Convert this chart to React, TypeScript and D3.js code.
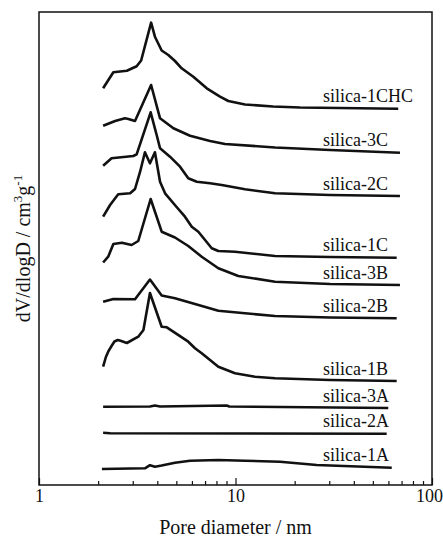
import React, { useEffect, useRef } from "react";
import * as d3 from "d3";

type Pt = [number, number];

// pore diameter (nm), dV/dlogD (curves shifted for clarity)
const silica1CHC: Pt[] = [[2.12, 39.67], [2.39, 41.28], [2.8, 41.42], [3.14, 41.87], [3.31, 42.45], [3.72, 46.23], [3.89, 44.83], [4.21, 43.45], [4.55, 43.0], [4.92, 42.4], [5.32, 41.67], [6.1, 40.83], [7.14, 39.67], [8.34, 38.83], [9.19, 38.4], [11.18, 38.05], [15.52, 37.85], [21.29, 37.75], [67.3, 37.62]];
const silica3C: Pt[] = [[2.12, 35.93], [2.44, 36.4], [2.74, 36.67], [2.85, 36.6], [3.08, 36.4], [3.72, 40.0], [4.13, 36.67], [4.83, 35.67], [5.87, 34.93], [7.42, 34.4], [8.84, 34.1], [15.89, 33.75], [30.27, 33.5], [68.7, 33.23]];
const silica2C: Pt[] = [[2.12, 31.93], [2.34, 32.67], [3.02, 32.9], [3.14, 33.07], [3.7, 37.27], [3.97, 35.0], [4.13, 33.67], [4.64, 32.83], [5.22, 31.83], [5.75, 30.67], [6.35, 30.33], [7.42, 30.17], [8.51, 30.0], [11.18, 29.57], [15.89, 29.17], [30.27, 29.0], [68.7, 28.9]];
const silica1C: Pt[] = [[2.12, 26.83], [2.3, 28.0], [2.53, 29.07], [2.91, 29.17], [3.08, 29.6], [3.27, 31.33], [3.46, 33.27], [3.67, 32.17], [3.89, 33.27], [4.13, 30.33], [4.38, 29.17], [5.04, 27.75], [5.53, 26.83], [5.99, 25.83], [6.47, 25.33], [7.57, 23.67], [8.18, 23.4], [9.94, 23.33], [15.89, 22.9], [30.27, 22.8], [66.1, 22.73]];
const silica3B: Pt[] = [[2.12, 22.25], [2.25, 22.83], [2.39, 24.1], [2.64, 24.23], [2.96, 24.0], [3.2, 24.4], [3.7, 28.6], [4.21, 25.33], [4.92, 24.75], [5.75, 23.9], [6.73, 22.83], [8.18, 21.67], [10.33, 20.9], [15.89, 20.33], [30.27, 20.1], [68.7, 20.0]];
const silica2B: Pt[] = [[2.12, 18.33], [2.39, 18.6], [3.08, 18.57], [3.67, 20.55], [4.21, 18.95], [4.92, 18.67], [6.22, 18.1], [8.18, 17.43], [11.18, 17.17], [15.89, 16.9], [30.27, 16.75], [66.1, 16.67]];
const silica1B: Pt[] = [[2.12, 11.83], [2.19, 12.8], [2.25, 13.33], [2.34, 13.9], [2.42, 14.35], [2.52, 14.5], [2.6, 14.42], [2.8, 14.2], [3.2, 14.83], [3.4, 15.5], [3.67, 19.2], [4.21, 15.83], [4.47, 15.77], [5.75, 14.33], [6.22, 13.67], [6.73, 13.17], [8.18, 11.83], [9.94, 11.17], [12.57, 10.83], [15.89, 10.67], [30.27, 10.5], [66.1, 10.4]];
const silica3A: Pt[] = [[2.12, 7.83], [3.67, 7.85], [3.89, 7.95], [4.13, 7.85], [9.02, 7.95], [9.3, 7.85], [59.9, 7.7]];
const silica2A: Pt[] = [[2.12, 5.22], [2.3, 5.17], [58.8, 5.13]];
const silica1A: Pt[] = [[2.09, 1.6], [3.46, 1.67], [3.67, 1.98], [3.89, 1.83], [4.21, 1.95], [4.92, 2.23], [5.87, 2.43], [8.18, 2.5], [11.18, 2.43], [16.85, 2.33], [25.9, 2.0], [62.4, 1.73]];

const seriesNames = ["silica-1CHC", "silica-3C", "silica-2C", "silica-1C", "silica-3B", "silica-2B", "silica-1B", "silica-3A", "silica-2A", "silica-1A"];
const seriesData = [silica1CHC, silica3C, silica2C, silica1C, silica3B, silica2B, silica1B, silica3A, silica2A, silica1A];

const majorTicks = [1, 10, 100];
const minorTicks = [2, 3, 4, 5, 6, 7, 8, 9, 20, 30, 40, 50, 60, 70, 80, 90];

const width = 443;
const height = 539;
const margin = { top: 12, right: 11, bottom: 54, left: 39 };
const font = "'Liberation Serif', 'Times New Roman', serif";

const App = () => {
  const ref = useRef<SVGSVGElement>(null);

  useEffect(() => {
    drawChart();
  }, []);

  function drawChart() {
    const svg = d3.select(ref.current);
    svg.selectAll("*").remove();

    const x = d3
      .scaleLog()
      .domain([1, 100])
      .range([margin.left, width - margin.right]);
    const y = d3
      .scaleLinear()
      .domain([0, 47.3])
      .range([height - margin.bottom, margin.top]);

    const line = d3
      .line<Pt>()
      .x((d) => x(d[0]))
      .y((d) => y(d[1]))
      .curve(d3.curveLinear);

    // frame
    svg
      .append("rect")
      .attr("x", margin.left)
      .attr("y", margin.top)
      .attr("width", width - margin.left - margin.right)
      .attr("height", height - margin.top - margin.bottom)
      .attr("fill", "none")
      .attr("stroke", "#111")
      .attr("stroke-width", 1.5);

    // ticks inside
    const bottom = height - margin.bottom;
    const major = svg
      .append("g")
      .attr("transform", `translate(0,${bottom})`)
      .call(
        d3
          .axisBottom(x)
          .tickValues(majorTicks)
          .tickFormat(d3.format("d"))
          .tickSize(-7)
          .tickPadding(4)
      );
    major.select(".domain").remove();
    major.selectAll("line").attr("stroke", "#111").attr("stroke-width", 1.2);
    major
      .selectAll("text")
      .attr("fill", "#111")
      .attr("dx", (d) => (d === 100 ? -3 : 0))
      .style("font-family", font)
      .style("font-size", "18px");

    const minor = svg
      .append("g")
      .attr("transform", `translate(0,${bottom})`)
      .call(d3.axisBottom(x).tickValues(minorTicks).tickFormat(() => "").tickSize(-4));
    minor.select(".domain").remove();
    minor.selectAll("line").attr("stroke", "#111").attr("stroke-width", 1.2);

    // curves
    svg
      .append("g")
      .selectAll("path")
      .data(seriesData)
      .enter()
      .append("path")
      .attr("d", (d) => line(d))
      .attr("fill", "none")
      .attr("stroke", "#111")
      .attr("stroke-width", 2.6)
      .attr("stroke-linejoin", "round");

    // series labels
    svg
      .append("g")
      .selectAll("text")
      .data(seriesData)
      .enter()
      .append("text")
      .attr("x", 323)
      .attr("y", (d) => y(d[d.length - 1][1]) - 6.5)
      .text((_, i) => seriesNames[i])
      .attr("fill", "#111")
      .style("font-family", font)
      .style("font-size", "18px");

    // axis titles
    svg
      .append("text")
      .attr("x", x(10))
      .attr("y", 534)
      .attr("text-anchor", "middle")
      .attr("fill", "#111")
      .style("font-family", font)
      .style("font-size", "20px")
      .text("Pore diameter / nm");

    const yTitle = svg
      .append("text")
      .attr("transform", `translate(30,${(margin.top + bottom) / 2}) rotate(-90)`)
      .attr("text-anchor", "middle")
      .attr("fill", "#111")
      .style("font-family", font)
      .style("font-size", "20px");
    yTitle.append("tspan").text("dV/dlogD / cm");
    yTitle.append("tspan").attr("dy", -8).style("font-size", "13px").text("3");
    yTitle.append("tspan").attr("dy", 8).text("g");
    yTitle.append("tspan").attr("dy", -8).style("font-size", "13px").text("-1");
  }

  return (
    <svg
      ref={ref}
      width={width}
      height={height}
      style={{ position: "absolute", left: 0, top: 0, background: "#fff" }}
    />
  );
};

export default App;
